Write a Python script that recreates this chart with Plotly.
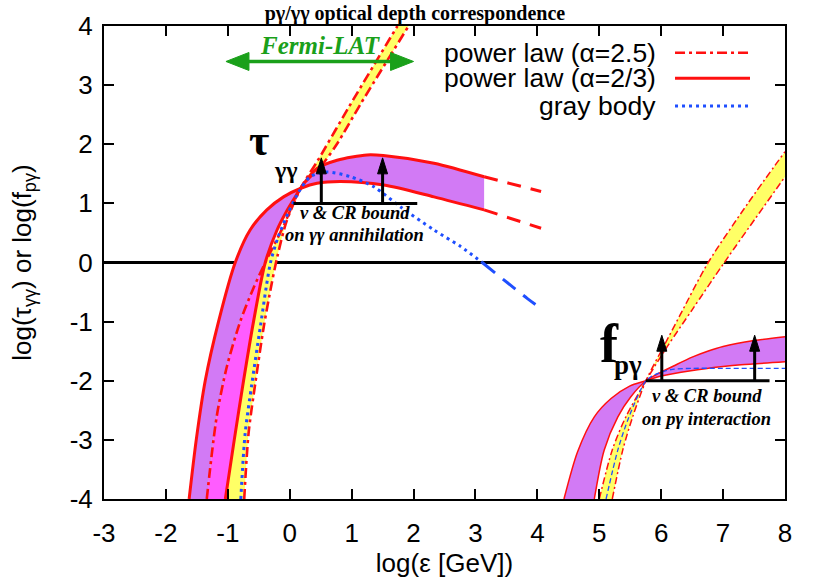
import plotly.graph_objects as go

# ---------------- data ----------------
x_ticks = list(range(-3, 9))
y_ticks = list(range(-4, 5))

# --- gamma-gamma optical depth group (left) ---
# power law alpha=2/3 : upper-plateau curve (steep at low energy)
tg_a23_hi_x = [-1.04, -0.896, -0.746, -0.585, -0.395, -0.205, -0.07, 0.09, 0.19, 0.44, 0.765, 1.25, 1.51, 2.33, 3.14, 4.06]
tg_a23_hi_y = [-4.0, -3.0, -2.0, -1.0, 0.0, 0.55, 0.83, 1.11, 1.28, 1.59, 1.73, 1.82, 1.81, 1.68, 1.45, 1.20]
# power law alpha=2/3 : lower-plateau curve
tg_a23_lo_x = [-1.625, -1.51, -1.365, -1.15, -0.88, -0.64, -0.37, -0.10, 0.19, 0.44, 0.82, 1.52, 2.33, 3.14, 4.06]
tg_a23_lo_y = [-4.0, -3.0, -2.0, -1.0, 0.0, 0.55, 0.89, 1.11, 1.26, 1.34, 1.37, 1.31, 1.11, 0.89, 0.58]
# power law alpha=2.5 : two bounds
tg_a25_1_x = [-1.34, -1.18, -1.015, -0.80, -0.585, -0.395, -0.10, 0.19, 0.50, 0.76, 1.15, 1.92]
tg_a25_1_y = [-4.0, -2.61, -1.76, -1.0, -0.43, 0.0, 0.62, 1.28, 1.62, 2.0, 2.69, 4.0]
tg_a25_2_x = [-0.735, -0.665, -0.556, -0.42, -0.29, -0.20, -0.05, 0.19, 0.45, 0.95, 1.74]
tg_a25_2_y = [-4.0, -2.89, -2.04, -1.09, -0.35, 0.10, 0.70, 1.28, 1.72, 2.62, 4.0]
# gray body
tg_gb_x = [-0.79, -0.72, -0.61, -0.475, -0.31, -0.18, -0.02, 0.15, 0.33, 0.60, 0.98, 1.36, 1.79, 2.33, 2.76, 3.11, 3.84, 4.09]
tg_gb_y = [-4.0, -2.89, -2.04, -1.09, 0.0, 0.45, 0.85, 1.20, 1.45, 1.53, 1.45, 1.28, 0.94, 0.55, 0.27, 0.0, -0.61, -0.80]
tg_solid_end = 3.14      # log eps where the alpha=2/3 band stops being solid
tg_gb_solid_end = 3.11   # log eps where the gray body turns dashed

# --- p-gamma efficiency group (right) ---
fp_a23_hi_x = [4.92, 5.08, 5.30, 5.51, 5.754, 5.95, 6.2, 6.5, 6.75, 7.0, 7.5, 8.0]
fp_a23_hi_y = [-4.0, -3.17, -2.61, -2.27, -2.0, -1.88, -1.75, -1.60, -1.50, -1.42, -1.32, -1.255]
fp_a23_lo_x = [4.43, 4.65, 4.92, 5.19, 5.49, 5.754, 6.0, 6.48, 7.0, 7.29, 8.0]
fp_a23_lo_y = [-4.0, -3.2, -2.61, -2.3, -2.09, -2.0, -1.92, -1.83, -1.76, -1.73, -1.68]
fp_a25_1_x = [5.21, 5.38, 5.54, 5.754, 6.05, 6.3, 6.76, 7.4, 8.0]
fp_a25_1_y = [-4.0, -3.17, -2.61, -2.0, -1.40, -0.90, 0.0, 1.0, 1.875]
fp_a25_2_x = [5.0, 5.21, 5.43, 5.754, 6.1, 6.5, 7.02, 8.0]
fp_a25_2_y = [-4.0, -3.17, -2.61, -2.0, -1.42, -0.80, 0.0, 1.45]
fp_gb_x = [5.11, 5.30, 5.48, 5.754, 5.89, 6.16, 6.5, 7.0, 8.0]
fp_gb_y = [-4.0, -3.17, -2.61, -2.0, -1.90, -1.81, -1.79, -1.79, -1.79]

# --- neutrino & CR bounds ---
bound_tg_x = [0.06, 2.06]
bound_tg_y = 1.0
arrow_tg_x = [0.51, 1.50]
arrow_tg_top = 1.77
bound_fp_x = [5.75, 7.75]
bound_fp_y = -2.0
arrow_fp_x = [6.01, 7.51]
arrow_fp_top = -1.23

# --- Fermi-LAT energy range ---
fermi_x = [-1.03, 2.0]
fermi_y = 3.40

legend_labels = ["power law (α=2.5)", "power law (α=2/3)", "gray body"]

# ---------------- styles ----------------
RED = "#ff1010"
BLUE = "#1f4fff"
PURPLE = "#d27af5"
MAGENTA = "#ff5cff"
YELLOW = "#ffff66"
GREEN = "#1aa01a"
SANS = "Liberation Sans, Arial, sans-serif"
SERIF = "Liberation Serif, Times New Roman, serif"
DASHDOT = "10px,4px,3px,4px"
XR, YR = (-3, 8), (-4, 4)
PLOT_W, PLOT_H = 681, 473
PX_X = PLOT_W / (XR[1] - XR[0])
PX_Y = PLOT_H / (YR[1] - YR[0])
SPL = dict(shape="spline", smoothing=0.8)

fig = go.Figure()


def band(x1, y1, x2, y2, color):
    """fill between two curves (each keeps its own smoothing, sharp band ends)"""
    fig.add_trace(go.Scatter(x=x1, y=y1, mode="lines", line=dict(width=0, **SPL),
                             hoverinfo="skip", showlegend=False))
    fig.add_trace(go.Scatter(x=x2, y=y2, mode="lines", line=dict(width=0, **SPL),
                             fill="tonexty", fillcolor=color, hoverinfo="skip", showlegend=False))


def line(x, y, color, width, dash="solid"):
    fig.add_trace(go.Scatter(x=x, y=y, mode="lines",
                             line=dict(color=color, width=width, dash=dash, **SPL),
                             hoverinfo="skip", showlegend=False))


def split(x, y, xe):
    a = [(u, v) for u, v in zip(x, y) if u <= xe]
    b = [(u, v) for u, v in zip(x, y) if u >= xe]
    return [p[0] for p in a], [p[1] for p in a], [p[0] for p in b], [p[1] for p in b]


def upto_y(x, y, ye):
    pts = [(u, v) for u, v in zip(x, y) if v <= ye]
    return [p[0] for p in pts], [p[1] for p in pts]


# ---- left group fills ----
hx, hy, hdx, hdy = split(tg_a23_hi_x, tg_a23_hi_y, tg_solid_end)
lx, ly, ldx, ldy = split(tg_a23_lo_x, tg_a23_lo_y, tg_solid_end)
band(lx, ly, hx, hy, PURPLE)
band(tg_a25_1_x, tg_a25_1_y, tg_a25_2_x, tg_a25_2_y, YELLOW)
c1x, c1y = upto_y(tg_a25_1_x, tg_a25_1_y, 0.0)
ahx, ahy = upto_y(tg_a23_hi_x[:6], tg_a23_hi_y[:6], 0.0)
band(c1x, c1y, ahx, ahy, MAGENTA)

# ---- right group fills ----
band(fp_a23_lo_x, fp_a23_lo_y, fp_a23_hi_x, fp_a23_hi_y, PURPLE)
band(fp_a25_2_x, fp_a25_2_y, fp_a25_1_x, fp_a25_1_y, YELLOW)

# ---- left group lines ----
line(tg_a25_1_x, tg_a25_1_y, RED, 2.6, DASHDOT)
line(tg_a25_2_x, tg_a25_2_y, RED, 2.6, DASHDOT)
line(hx, hy, RED, 3)
line(lx, ly, RED, 3)
line(hdx, hdy, RED, 3, "14px,10px")
line(ldx, ldy, RED, 3, "14px,10px")
gx, gy, gdx, gdy = split(tg_gb_x, tg_gb_y, tg_gb_solid_end)
line(gx, gy, BLUE, 3, "3px,4px")
line(gdx, gdy, BLUE, 3, "16px,10px")

# ---- right group lines ----
line(fp_a25_1_x, fp_a25_1_y, RED, 1.5, "7px,3px,2px,3px")
line(fp_a25_2_x, fp_a25_2_y, RED, 1.5, "7px,3px,2px,3px")
line(fp_a23_hi_x, fp_a23_hi_y, RED, 1.5)
line(fp_a23_lo_x, fp_a23_lo_y, RED, 1.5)
line(fp_gb_x, fp_gb_y, BLUE, 1.3, "5px,3px")

# ---- bounds with arrows ----
HEAD_H = 16 / PX_Y
HEAD_W = 5 / PX_X


def up_arrow(x, y0, y1, color="black"):
    fig.add_trace(go.Scatter(x=[x, x], y=[y0, y1 - HEAD_H * 0.6], mode="lines",
                             line=dict(color=color, width=3), hoverinfo="skip", showlegend=False))
    fig.add_trace(go.Scatter(x=[x - HEAD_W, x, x + HEAD_W, x - HEAD_W],
                             y=[y1 - HEAD_H, y1, y1 - HEAD_H, y1 - HEAD_H],
                             mode="lines", fill="toself", fillcolor=color,
                             line=dict(color=color, width=1), hoverinfo="skip", showlegend=False))


for bx, by, ax_list, atop in [(bound_tg_x, bound_tg_y, arrow_tg_x, arrow_tg_top),
                               (bound_fp_x, bound_fp_y, arrow_fp_x, arrow_fp_top)]:
    fig.add_trace(go.Scatter(x=bx, y=[by, by], mode="lines", line=dict(color="black", width=3),
                             hoverinfo="skip", showlegend=False))
    for axx in ax_list:
        up_arrow(axx, by, atop)

# ---- Fermi-LAT double arrow ----
FH_L = 23 / PX_X
FH_W = 9 / PX_Y
fig.add_trace(go.Scatter(x=[fermi_x[0] + FH_L * 0.8, fermi_x[1] - FH_L * 0.8], y=[fermi_y, fermi_y],
                         mode="lines", line=dict(color=GREEN, width=3.5), hoverinfo="skip", showlegend=False))
for tip, sgn in [(fermi_x[0], 1), (fermi_x[1], -1)]:
    fig.add_trace(go.Scatter(x=[tip, tip + sgn * FH_L, tip + sgn * FH_L, tip],
                             y=[fermi_y, fermi_y + FH_W, fermi_y - FH_W, fermi_y],
                             mode="lines", fill="toself", fillcolor=GREEN,
                             line=dict(color=GREEN, width=1), hoverinfo="skip", showlegend=False))

# ---------------- text ----------------
ann = []
ann.append(dict(x=0.49, y=fermi_y + 0.27, xref="x", yref="y", showarrow=False,
                text="<b><i>Fermi-LAT</i></b>", font=dict(family=SERIF, size=25, color=GREEN)))
ann.append(dict(x=-0.50, y=2.07, xref="x", yref="y", showarrow=False,
                text="<b>τ</b>", font=dict(family=SERIF, size=44, color="black")))
ann.append(dict(x=-0.07, y=1.57, xref="x", yref="y", showarrow=False,
                text="<b>γγ</b>", font=dict(family=SERIF, size=24, color="black")))
ann.append(dict(x=1.05, y=0.84, xref="x", yref="y", showarrow=False,
                text="<b><i>ν & CR bound</i></b>", font=dict(family=SERIF, size=18.5, color="black")))
ann.append(dict(x=1.05, y=0.46, xref="x", yref="y", showarrow=False,
                text="<b><i>on γγ annihilation</i></b>", font=dict(family=SERIF, size=18.5, color="black")))
ann.append(dict(x=5.16, y=-1.38, xref="x", yref="y", showarrow=False,
                text="<b>f</b>", font=dict(family=SERIF, size=54, color="black")))
ann.append(dict(x=5.47, y=-1.74, xref="x", yref="y", showarrow=False,
                text="<b>pγ</b>", font=dict(family=SERIF, size=27, color="black")))
ann.append(dict(x=6.74, y=-2.26, xref="x", yref="y", showarrow=False,
                text="<b><i>ν & CR bound</i></b>", font=dict(family=SERIF, size=18.5, color="black")))
ann.append(dict(x=6.74, y=-2.65, xref="x", yref="y", showarrow=False,
                text="<b><i>on pγ interaction</i></b>", font=dict(family=SERIF, size=18.5, color="black")))

# custom legend (gnuplot style: right-aligned text, then the line sample)
leg_y = [0.9436, 0.8894, 0.8309]
leg_styles = [dict(color=RED, width=2.6, dash=DASHDOT), dict(color=RED, width=3),
              dict(color=BLUE, width=3, dash="3px,4px")]
shapes = []
for lab, yy, st in zip(legend_labels, leg_y, leg_styles):
    ann.append(dict(x=0.8135, y=yy, xref="paper", yref="paper", xanchor="right", yanchor="middle",
                    showarrow=False, text=lab, font=dict(family=SANS, size=26.5, color="black")))
    shapes.append(dict(type="line", xref="paper", yref="paper", x0=0.8385, x1=0.9486, y0=yy, y1=yy,
                       line=st))

axis_common = dict(showline=True, linewidth=2, linecolor="black", mirror="ticks", ticks="inside",
                   ticklen=10, tickwidth=1.5, tickcolor="black", showgrid=False, automargin=False,
                   tickfont=dict(family=SANS, size=26, color="black"))

fig.update_layout(
    width=830, height=581,
    margin=dict(l=104, r=45, t=26, b=82, autoexpand=False),
    paper_bgcolor="white", plot_bgcolor="white",
    title=dict(text="<b>pγ/γγ optical depth correspondence</b>", x=0.5, xanchor="center",
               y=0.978, yanchor="middle", font=dict(family=SERIF, size=20, color="black")),
    xaxis=dict(range=list(XR), tickvals=x_ticks, ticktext=[str(v) for v in x_ticks], zeroline=False,
               ticklabelstandoff=10,
               title=dict(text="log(ε [GeV])", font=dict(family=SANS, size=26, color="black"), standoff=4),
               **axis_common),
    yaxis=dict(range=list(YR), tickvals=y_ticks, ticktext=[str(v) for v in y_ticks],
               zeroline=True, zerolinecolor="black", zerolinewidth=2.5, ticklabelstandoff=4,
               title=dict(text="log(τ<sub>γγ</sub>) or log(f<sub>pγ</sub>)",
                          font=dict(family=SANS, size=26, color="black"), standoff=31),
               **axis_common),
    annotations=ann, shapes=shapes, showlegend=False,
)

# remove the default 8px page margin so the figure sits at the window's corner
fig.write_html("out.html", config={"displayModeBar": False},
               post_script="document.body.style.margin='0';")
